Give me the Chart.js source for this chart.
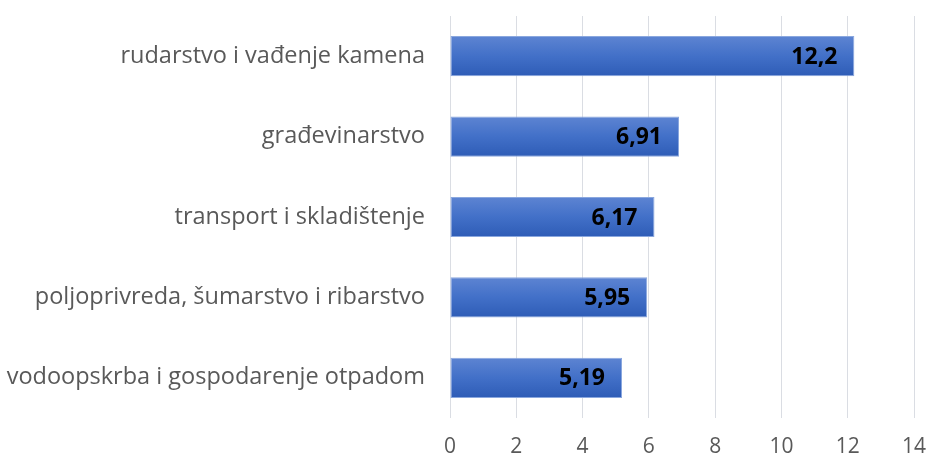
<!DOCTYPE html>
<html>
<head>
	<meta charset="utf-8">
	<title>Bar Chart</title>
	<script src="https://cdn.jsdelivr.net/npm/chart.js@4.4.0/dist/chart.umd.min.js"></script>
	<style>
		html, body { margin: 0; padding: 0; background: #fff; }
	</style>
</head>
<body>

	<canvas id="mychart" width="928" height="457"></canvas>

	<script type="text/javascript">

		const categories = [
			'rudarstvo i vađenje kamena',
			'građevinarstvo',
			'transport i skladištenje',
			'poljoprivreda, šumarstvo i ribarstvo',
			'vodoopskrba i gospodarenje otpadom'
		];
		const values = [12.2, 6.91, 6.17, 5.95, 5.19];
		const valueLabels = ['12,2', '6,91', '6,17', '5,95', '5,19'];

		// vertical gradient for one bar, worked out from its row on the y scale
		function barGradient(context) {
			const chart = context.chart;
			const yScale = chart.scales.y;
			if (!yScale || context.dataIndex === undefined) return '#3f6cc6';
			const centre = yScale.getPixelForValue(context.dataIndex);
			const row = yScale.height / categories.length;
			if (!isFinite(centre) || !isFinite(row) || row <= 0) return '#3f6cc6';
			const g = chart.ctx.createLinearGradient(0, centre - row / 4, 0, centre + row / 4);
			g.addColorStop(0, '#5d84d2');
			g.addColorStop(0.5, '#4270c8');
			g.addColorStop(1, '#2e5cb6');
			return g;
		}

		// value written at the end of each bar
		const valueText = {
			id: 'valueText',
			afterDatasetsDraw(chart) {
				const ctx = chart.ctx;
				ctx.save();
				ctx.font = 'bold 23px "Open Sans"';
				ctx.fillStyle = '#000';
				ctx.textAlign = 'right';
				ctx.textBaseline = 'middle';
				chart.getDatasetMeta(0).data.forEach((bar, i) => {
					ctx.fillText(valueLabels[i], bar.x - 17, bar.y + 1);
				});
				ctx.restore();
			}
		};

		const ctx = document.getElementById('mychart').getContext('2d');
		const myChart = new Chart(ctx, {
			type: 'bar',
			data: {
				labels: categories,
				datasets: [{
					data: values,
					backgroundColor: barGradient,
					borderColor: '#8aa7de',
					borderWidth: 1,
					borderSkipped: false,
					barPercentage: 0.5,
					categoryPercentage: 1
				}]
			},
			options: {
				indexAxis: 'y',
				responsive: false,
				animation: false,
				layout: { padding: { top: 16, right: 14, left: 0, bottom: 0 } },
				plugins: {
					legend: { display: false },
					tooltip: { enabled: false }
				},
				scales: {
					x: {
						min: 0,
						max: 14,
						ticks: {
							stepSize: 2,
							padding: 16,
							color: '#595959',
							font: { family: '"Open Sans"', size: 21 }
						},
						grid: { color: '#dadde3', drawTicks: false },
						border: { display: false },
						afterFit(scale) {
							scale.height = 39;
							scale.paddingLeft = 0;
							scale.paddingRight = 0;
						}
					},
					y: {
						ticks: {
							padding: 25,
							color: '#595959',
							font: { family: '"Open Sans"', size: 23.5 }
						},
						grid: { display: false, drawTicks: false },
						border: { display: false },
						afterFit(scale) {
							scale.width = 450;
							scale.paddingTop = 0;
							scale.paddingBottom = 0;
						}
					}
				}
			},
			plugins: [valueText]
		});

	</script>

</body>
</html>
